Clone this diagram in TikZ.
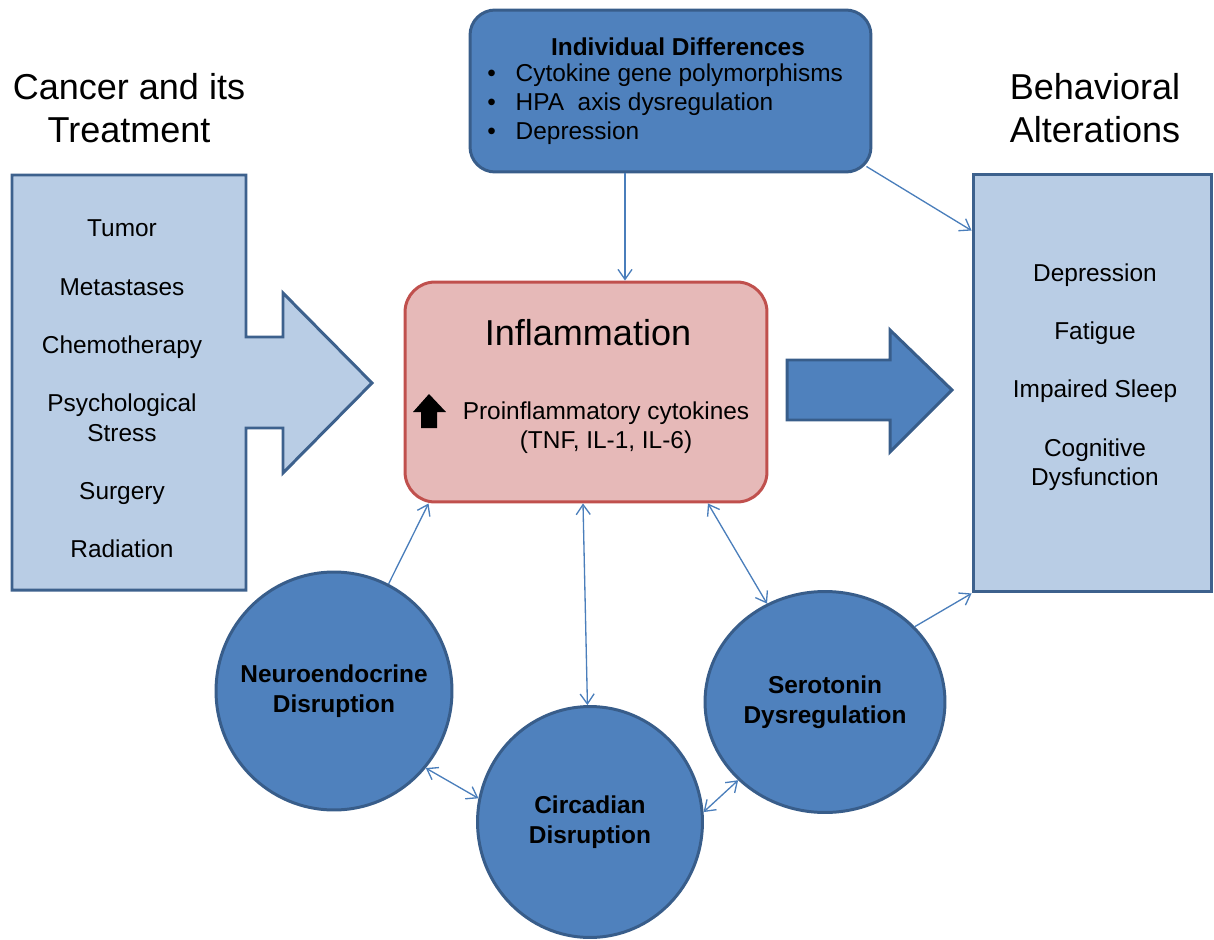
\documentclass[tikz,border=0pt]{standalone}
\usepackage{fontspec}
\setmainfont{Liberation Sans}
\usetikzlibrary{shapes.geometric, arrows.meta, positioning}
\definecolor{darkblue}{HTML}{4F81BD}
\definecolor{darkedge}{HTML}{385D8A}
\definecolor{lightblue}{HTML}{B9CDE5}
\definecolor{lightedge}{HTML}{3D618D}
\definecolor{pinkfill}{HTML}{E6B9B8}
\definecolor{pinkedge}{HTML}{C0504D}
\definecolor{linkblue}{HTML}{4A7EBB}
\newcommand{\bodysize}{\fontsize{13.9pt}{16.6pt}\selectfont}
\newcommand{\headsize}{\fontsize{20.5pt}{24.4pt}\selectfont}
\tikzstyle{heading} = [font=\headsize, align=center, inner sep=0pt]
\tikzstyle{listtext} = [font=\bodysize, align=center, inner sep=0pt]
\tikzstyle{sidebox} = [rectangle, draw=lightedge, fill=lightblue, line width=1.7pt]
\tikzstyle{callout} = [draw=lightedge, fill=lightblue, line width=1.7pt, line join=miter]
\tikzstyle{solidarrow} = [draw=darkedge, fill=darkblue, line width=1.7pt, line join=miter]
\tikzstyle{topbox} = [rectangle, rounded corners=0.5cm, draw=darkedge, fill=darkblue, line width=1.7pt]
\tikzstyle{hub} = [rectangle, rounded corners=0.6cm, draw=pinkedge, fill=pinkfill, line width=1.7pt]
\tikzstyle{pathway} = [ellipse, draw=darkedge, fill=darkblue, line width=1.7pt, inner sep=0pt]
\tikzstyle{pathtext} = [font=\bfseries\fontsize{13.9pt}{17pt}\selectfont, align=center, inner sep=0pt]
\tikzstyle{link} = [draw=linkblue, line width=0.75pt, >={Straight Barb[length=2mm,width=2.8mm]}]

\begin{document}
\begin{tikzpicture}[x=0.02cm, y=-0.02cm]
\useasboundingbox (0,0) rectangle (1214,940);

% cancer and its treatment
\node (cancerhead) [heading] at (129,108) {Cancer and its\\Treatment};
\draw [callout] (12,175) -- (246,175) -- (246,337) -- (283,337) -- (283,293) -- (372,383)
  -- (283,473) -- (283,428) -- (246,428) -- (246,590) -- (12,590) -- cycle;
\node (cancerlist) [listtext] at (122,389) {Tumor\\[16.6pt]Metastases\\[16.6pt]Chemotherapy\\[16.6pt]Psychological\\Stress\\[16.6pt]Surgery\\[16.6pt]Radiation};

% individual differences
\node (indiv) [topbox, minimum width=8.02cm, minimum height=3.24cm] at (670.5,91) {};
\node (indivhead) [font=\bfseries\bodysize, inner sep=0pt] at (678,47) {Individual Differences};
\node (indivlist) [listtext, align=left, anchor=west] at (487,104) {\textbullet\hspace{11.3pt}Cytokine gene polymorphisms\\\textbullet\hspace{11.3pt}HPA\ \ axis dysregulation\\\textbullet\hspace{11.3pt}Depression};

% inflammation
\node (infl) [hub, minimum width=7.24cm, minimum height=4.4cm] at (586,392) {};
\node (infltitle) [heading] at (588,333) {Inflammation};
\node (cytokines) [listtext] at (606,427.5) {Proinflammatory cytokines\\(TNF, IL-1, IL-6)};
\fill (413,412) -- (429,394) -- (446,412) -- (437,412) -- (437,428) -- (421,428) -- (421,412) -- cycle;

% behavioral alterations
\node (behavhead) [heading] at (1095,108) {Behavioral\\Alterations};
\node (behav) [sidebox, minimum width=4.78cm, minimum height=8.36cm] at (1092.5,383) {};
\node (behavlist) [listtext] at (1095,377) {Depression\\[16.6pt]Fatigue\\[16.6pt]Impaired Sleep\\[16.6pt]Cognitive\\Dysfunction};
\draw [solidarrow] (787,360) -- (890,360) -- (890,330) -- (952,390) -- (890,452) -- (890,420) -- (787,420) -- cycle;

% pathways
\node (neuro) [pathway, minimum width=4.72cm, minimum height=4.76cm] at (334,691) {};
\node (circ) [pathway, minimum width=4.5cm, minimum height=4.62cm] at (590,822) {};
\node (sero) [pathway, minimum width=4.8cm, minimum height=4.42cm] at (825,702) {};
\node (neurotext) [pathtext] at (neuro) {Neuroendocrine\\Disruption};
\node (circtext) [pathtext] at (circ) {Circadian\\Disruption};
\node (serotext) [pathtext] at (sero) {Serotonin\\Dysregulation};

\draw [link, ->] ([xshift=-0.91cm]indiv.south) -- ([xshift=-0.91cm]indiv.south |- infl.north);
\draw [link, ->] ([xshift=-0.12cm,yshift=0.14cm]indiv.south east) -- ([yshift=-1.16cm]behav.north west);
\draw [link, ->] (neuro.63) -- ([xshift=0.5cm]infl.south west);
\draw [link, <->] ([xshift=-0.06cm]infl.south) -- (circ);
\draw [link, <->] ([xshift=2.44cm]infl.south) -- (sero);
\draw [link, <->] (neuro.-40) -- (circ.168);
\draw [link, <->] (circ.5) -- (sero.222);
\draw [link, ->] (sero.40) -- (behav.south west);

\end{tikzpicture}
\end{document}
